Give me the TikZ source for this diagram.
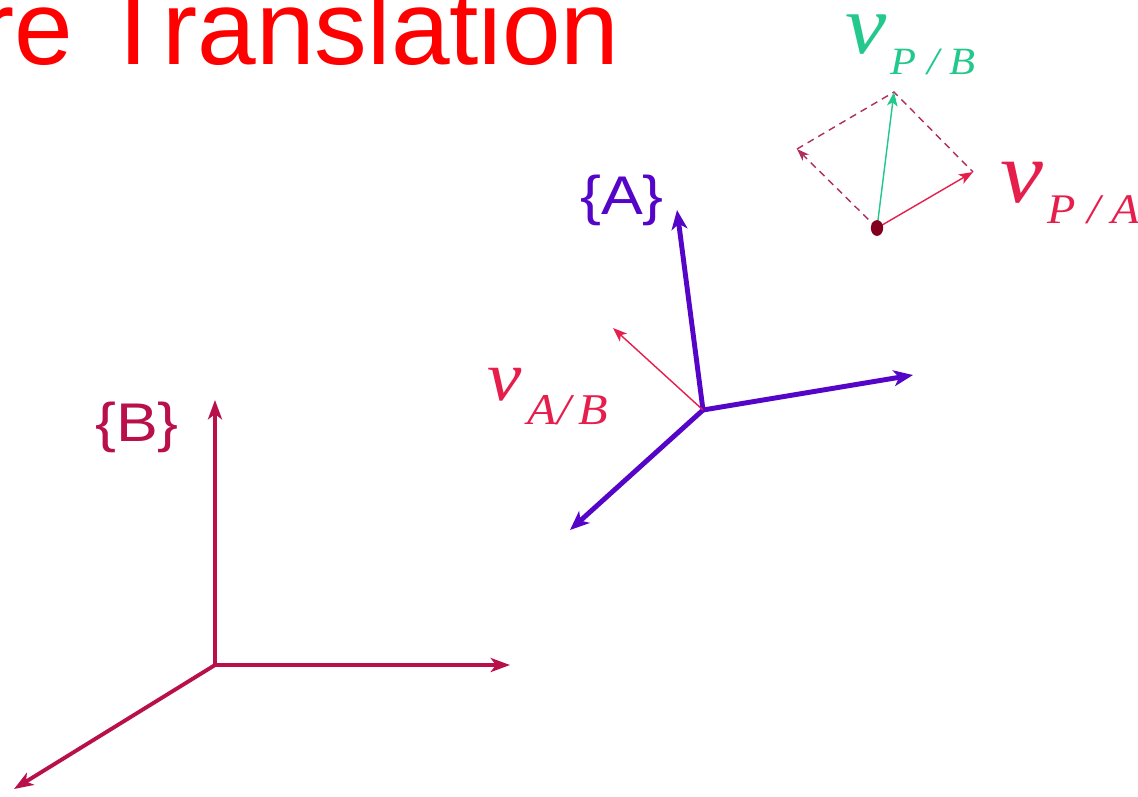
\documentclass[tikz,border=0pt]{standalone}
\usepackage{fontspec}
\setmainfont{Liberation Serif}
\newfontfamily\arialfont{Liberation Sans}
\usetikzlibrary{arrows.meta,shapes.geometric}
\definecolor{titlered}{RGB}{255,0,0}
\definecolor{bcol}{RGB}{185,15,75}
\definecolor{acol}{RGB}{85,5,200}
\definecolor{vred}{RGB}{230,30,75}
\definecolor{dotcol}{RGB}{130,0,30}
\definecolor{tealc}{RGB}{35,200,140}
\definecolor{dashcol}{RGB}{175,45,95}
\tikzset{
  bax/.style={bcol, line width=2.2pt, -{Stealth[length=11pt,width=8pt,inset=3pt]}},
  aax/.style={acol, line width=2.8pt, -{Stealth[length=11pt,width=9pt,inset=3pt]}},
  thinvec/.style={line width=0.8pt, -{Stealth[length=8pt,width=6pt,inset=2pt]}},
  dashvec/.style={dashcol, line width=0.8pt, dash pattern=on 4pt off 3pt},
  framelab/.style={font=\arialfont\fontsize{31}{31}\selectfont, xscale=1.15, inner sep=0pt},
  vlab/.style={inner sep=0pt, anchor=base west, xscale=1.1}
}
\begin{document}
\begin{tikzpicture}[x=0.02cm, y=-0.02cm]
\clip (0,0) rectangle (1138,796);
\fill[white] (0,0) rectangle (1138,796);
% title
\node[anchor=base east, inner sep=0pt, text=titlered,
      font=\arialfont\fontsize{60}{60}\selectfont] (title) at (620,64) {re Translation};
% frame B
\coordinate (Bo) at (215,665);
\coordinate (Bz) at (215,400);
\coordinate (Bx) at (510,665);
\coordinate (By) at (14,789);
\draw[bax] (Bo) -- (Bz);
\draw[bax] (Bo) -- (Bx);
\draw[bax] (Bo) -- (By);
\node[framelab, text=bcol] (Blab) at (137,427) {\{B\}};
% frame A
\coordinate (Ao) at (703,410);
\coordinate (Az) at (677,210);
\coordinate (Ax) at (913,375);
\coordinate (Ay) at (570,530);
\draw[aax] (Ao) -- (Az);
\draw[aax] (Ao) -- (Ax);
\draw[aax] (Ao) -- (Ay);
\node[framelab, text=acol] (Alab) at (622,200) {\{A\}};
% v_A/B
\coordinate (vabtip) at (613,328);
\draw[thinvec, vred] (Ao) -- (vabtip);
\node[vlab, text=vred] (vab) at (487,400)
  {\fontsize{40}{40}\selectfont\itshape v\kern3pt\raisebox{-14pt}{\fontsize{25}{25}\selectfont A/\,B}};
% point P
\coordinate (vpa) at (973,172);
\coordinate (vpb) at (894,92);
\coordinate (vpd) at (797,149);
\draw[dashvec] (vpd) -- (vpb) -- (vpa);
\draw[dashvec, -{Stealth[length=7pt,width=5pt,inset=2pt]}] (877,228) -- (vpd);
\draw[thinvec, tealc] (877,228) -- (vpb);
\draw[thinvec, vred] (877,228) -- (vpa);
\node[ellipse, fill=dotcol, minimum width=7pt, minimum height=9pt, inner sep=0pt] (P) at (877,228) {};
\node[vlab, text=tealc] (vpblab) at (845,53)
  {\fontsize{48}{48}\selectfont\itshape v\kern2pt\raisebox{-12pt}{\fontsize{22}{22}\selectfont P / B}};
\node[vlab, text=vred] (vpalab) at (1000,202)
  {\fontsize{50}{50}\selectfont\itshape v\kern2pt\raisebox{-12pt}{\fontsize{24}{24}\selectfont P / A}};
\end{tikzpicture}
\end{document}
